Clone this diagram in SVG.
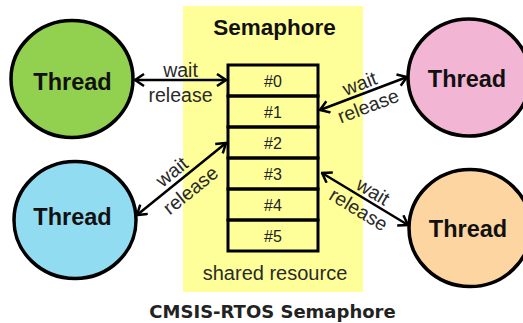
<svg xmlns="http://www.w3.org/2000/svg" width="523" height="323" viewBox="0 0 523 323">
<defs>
<style>
.thread{stroke:#000;stroke-width:3.5}
.tl{font-family:"Liberation Sans",Arial,sans-serif;font-weight:bold;font-size:23.5px;fill:#111;text-anchor:middle}
.slot{fill:none;stroke:#000;stroke-width:3}
.sl{font-family:"Liberation Sans",Arial,sans-serif;font-size:16px;fill:#222;text-anchor:middle}
.lbl{font-family:"Liberation Sans",Arial,sans-serif;font-size:19.5px;fill:#2a2a2a;text-anchor:middle}
.conn{stroke:#000;stroke-width:2.5;fill:none;marker-start:url(#ah);marker-end:url(#ah)}
</style>
<marker id="ah" viewBox="0 0 12 14" refX="10.5" refY="7" markerWidth="12" markerHeight="14" orient="auto-start-reverse" markerUnits="userSpaceOnUse">
<path d="M1.5,1 L10.5,7 L1.5,13" fill="none" stroke="#000" stroke-width="2.5" stroke-linejoin="miter"/>
</marker>
</defs>
<rect width="523" height="323" fill="#fff"/>
<g id="semaphore">
<rect x="183" y="6" width="180" height="286" fill="#ffff99"/>
<text x="274.5" y="35" font-family="Liberation Sans,Arial,sans-serif" font-weight="bold" font-size="22.5" fill="#111" text-anchor="middle">Semaphore</text>
<text x="275" y="280" class="lbl" style="font-size:20px">shared resource</text>
</g>
<g id="slots">
<rect class="slot" x="228" y="65" width="90" height="31"/>
<rect class="slot" x="228" y="96" width="90" height="31"/>
<rect class="slot" x="228" y="127" width="90" height="31"/>
<rect class="slot" x="228" y="158" width="90" height="31"/>
<rect class="slot" x="228" y="189" width="90" height="31"/>
<rect class="slot" x="228" y="220" width="90" height="31"/>
<text class="sl" x="273" y="87">#0</text>
<text class="sl" x="273" y="118">#1</text>
<text class="sl" x="273" y="149">#2</text>
<text class="sl" x="273" y="180">#3</text>
<text class="sl" x="273" y="211">#4</text>
<text class="sl" x="273" y="242">#5</text>
</g>
<g id="thread-green">
<ellipse class="thread" cx="72" cy="79" rx="61" ry="58.5" fill="#92d050"/>
<text class="tl" x="72.5" y="90">Thread</text>
</g>
<g id="thread-pink">
<ellipse class="thread" cx="469" cy="77.5" rx="61" ry="58.5" fill="#f2b6d4"/>
<text class="tl" x="467" y="87">Thread</text>
</g>
<g id="thread-blue">
<ellipse class="thread" cx="75" cy="220" rx="61" ry="58.5" fill="#92dcf2"/>
<text class="tl" x="72.5" y="225">Thread</text>
</g>
<g id="thread-orange">
<ellipse class="thread" cx="470" cy="228" rx="61" ry="58.5" fill="#fcd5a0"/>
<text class="tl" x="468" y="237">Thread</text>
</g>
<g id="connectors">
<line class="conn" x1="135" y1="80" x2="226" y2="80"/>
<line class="conn" x1="320" y1="110" x2="407" y2="77"/>
<line class="conn" x1="137" y1="215" x2="226" y2="143"/>
<line class="conn" x1="322" y1="173" x2="408" y2="225"/>
<g transform="translate(180.5,80)"><text class="lbl" x="0" y="-3.5">wait</text><text class="lbl" x="0" y="22">release</text></g>
<g transform="translate(363.5,93.5) rotate(-20.8)"><text class="lbl" x="0" y="-4">wait</text><text class="lbl" x="0" y="20">release</text></g>
<g transform="translate(181.5,179) rotate(-39)"><text class="lbl" x="-3" y="-5">wait</text><text class="lbl" x="0" y="21">release</text></g>
<g transform="translate(365,199) rotate(31.2)"><text class="lbl" x="3" y="-4">wait</text><text class="lbl" x="0" y="19">release</text></g>
</g>
<text x="272.5" y="318" font-family="DejaVu Sans,Verdana,sans-serif" font-weight="bold" font-size="18" fill="#222" text-anchor="middle">CMSIS-RTOS Semaphore</text>
</svg>
